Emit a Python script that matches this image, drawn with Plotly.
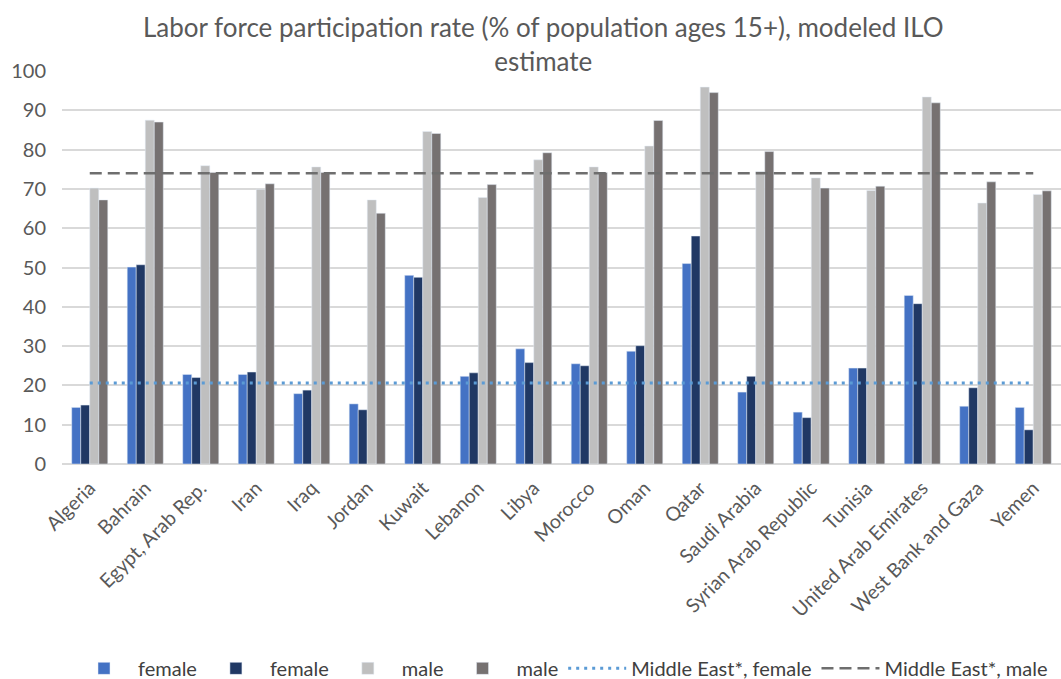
import plotly.graph_objects as go

countries = ["Algeria", "Bahrain", "Egypt, Arab Rep.", "Iran", "Iraq", "Jordan", "Kuwait",
             "Lebanon", "Libya", "Morocco", "Oman", "Qatar", "Saudi Arabia",
             "Syrian Arab Republic", "Tunisia", "United Arab Emirates", "West Bank and Gaza", "Yemen"]

female_a = [14.4, 50.1, 22.8, 22.8, 17.9, 15.3, 48.0, 22.3, 29.3, 25.5, 28.7, 51.0, 18.3, 13.2, 24.4, 42.9, 14.7, 14.4]
female_b = [15.0, 50.7, 22.0, 23.4, 18.8, 13.8, 47.5, 23.2, 25.8, 25.0, 30.1, 58.0, 22.3, 11.8, 24.4, 40.8, 19.4, 8.7]
male_a = [70.2, 87.5, 75.9, 69.9, 75.6, 67.2, 84.6, 67.8, 77.4, 75.6, 80.9, 95.9, 74.4, 72.8, 69.6, 93.4, 66.4, 68.6]
male_b = [67.2, 87.0, 74.2, 71.3, 74.2, 63.8, 84.1, 71.1, 79.2, 74.2, 87.4, 94.5, 79.5, 70.2, 70.7, 91.9, 71.8, 69.5]
me_female = [20.6] * len(countries)
me_male = [74.0] * len(countries)

FONT = "Lato"
GRAY = "#595959"

fig = go.Figure()
fig.add_trace(go.Bar(x=countries, y=female_a, name="female", marker_color="#4472C4"))
fig.add_trace(go.Bar(x=countries, y=female_b, name="female", marker_color="#203864"))
fig.add_trace(go.Bar(x=countries, y=male_a, name="male", marker_color="#BFBFBF"))
fig.add_trace(go.Bar(x=countries, y=male_b, name="male", marker_color="#767171"))
fig.add_trace(go.Scatter(x=countries, y=me_female, name="Middle East*, female", mode="lines",
                         line=dict(color="#5B9BD5", width=3, dash="3px,5px")))
fig.add_trace(go.Scatter(x=countries, y=me_male, name="Middle East*, male", mode="lines",
                         line=dict(color="#6E6E6E", width=2.5, dash="12px,6px")))

fig.update_layout(
    width=1061, height=679,
    margin=dict(l=62, r=0, t=71, b=215, autoexpand=False),
    paper_bgcolor="white", plot_bgcolor="white",
    font=dict(family=FONT, color=GRAY, size=15),
    title=dict(text="Labor force participation rate (% of population ages 15+), modeled ILO<br>estimate",
               x=0.512, xanchor="center", xref="container", y=0.945, yanchor="top", yref="container",
               font=dict(family=FONT, size=26, color=GRAY)),
    barmode="group", bargap=0.35, bargroupgap=0,
    legend=dict(orientation="h", x=0.5, xanchor="center", y=-0.52, yanchor="middle",
                font=dict(family=FONT, size=20, color="#404040"), itemwidth=58,
                tracegroupgap=0),
    showlegend=True,
)
fig.update_xaxes(tickangle=-45, tickfont=dict(size=19.5, color=GRAY), showgrid=False,
                 showline=False, ticks="", automargin=False, ticklabelstandoff=8)
fig.update_yaxes(range=[0, 100], dtick=10, showgrid=True, gridcolor="#D9D9D9", gridwidth=1.5,
                 zeroline=True, zerolinecolor="#D9D9D9", zerolinewidth=1.5,
                 tickfont=dict(size=20, color=GRAY), ticks="", ticklabelstandoff=15,
                 automargin=False)

fig.write_html("out.html")
